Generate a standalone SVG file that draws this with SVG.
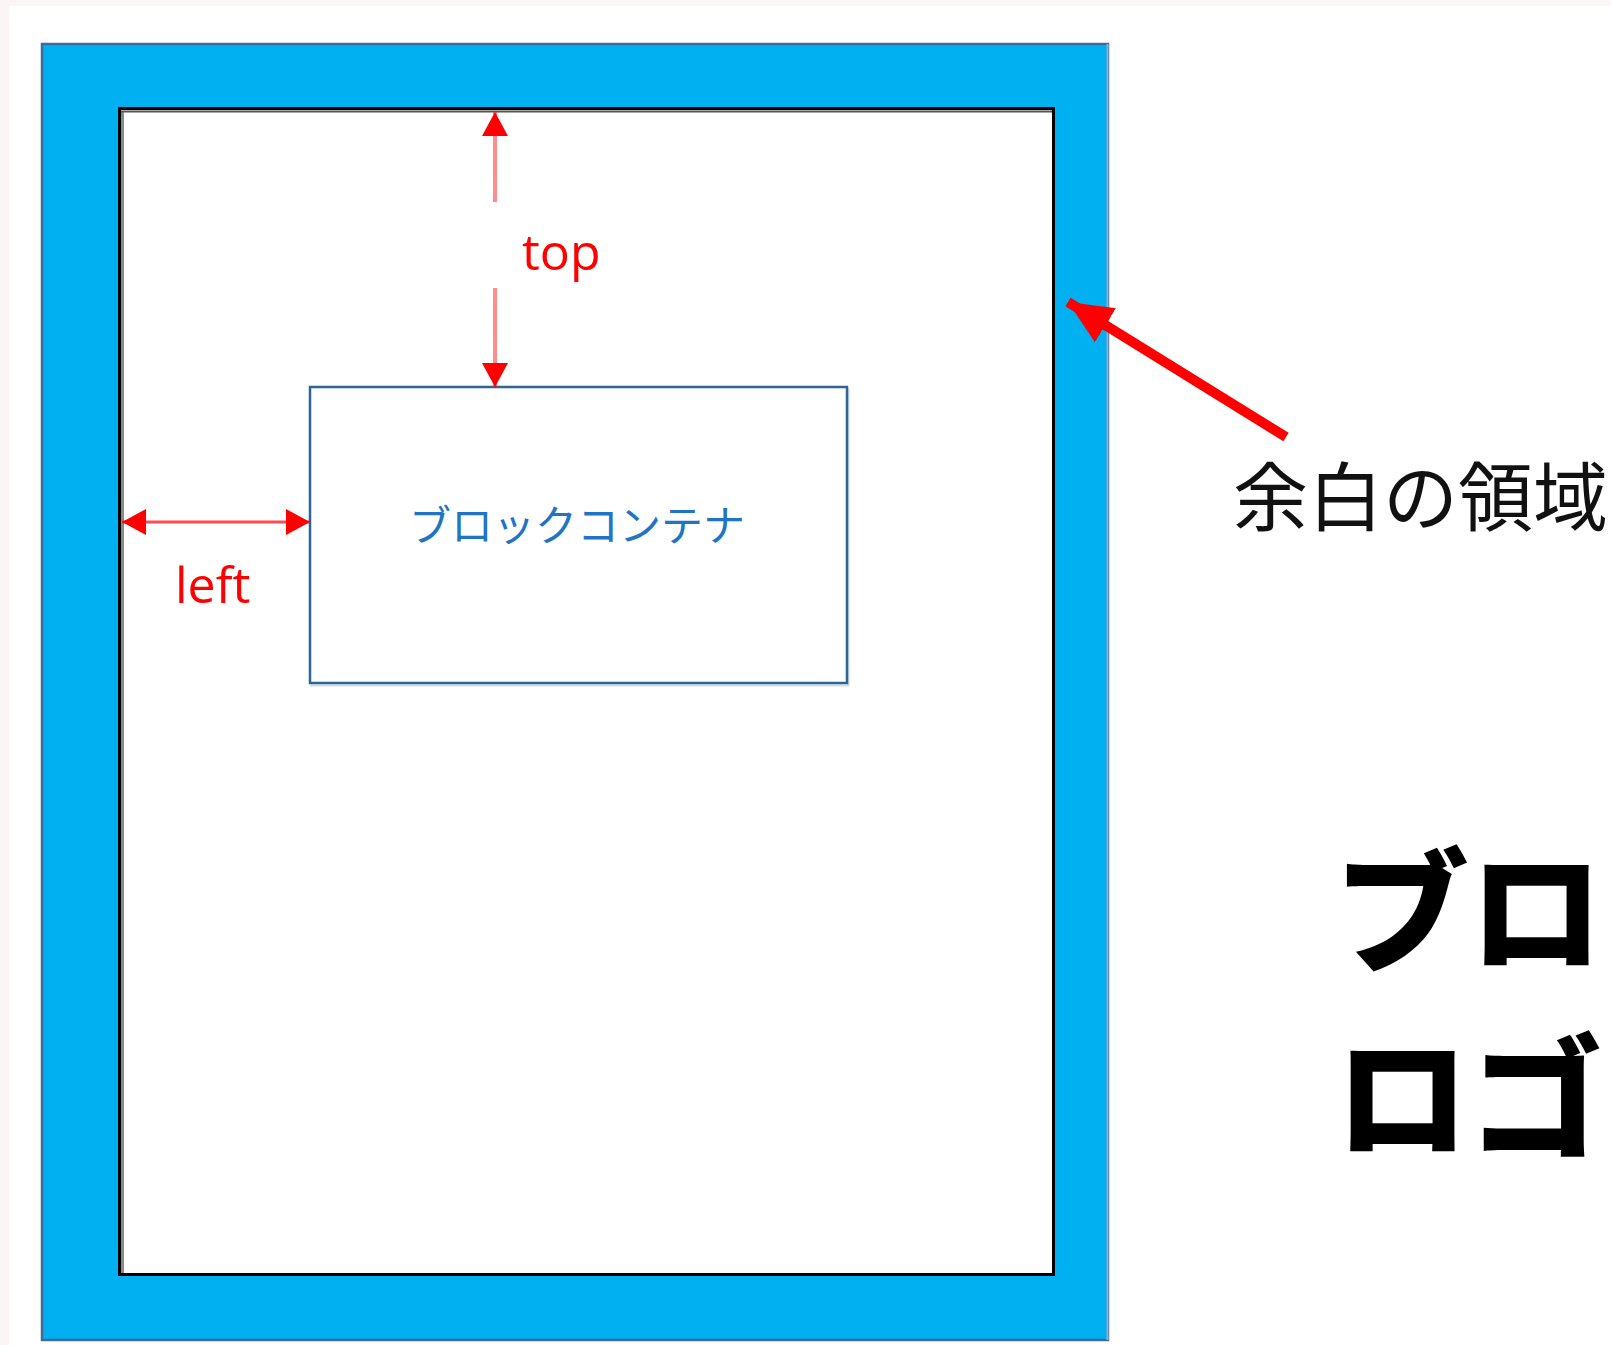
<svg xmlns="http://www.w3.org/2000/svg" width="1611" height="1345" viewBox="0 0 1611 1345">
<style>
.lbl{font-family:"Open Sans","Noto Sans","Liberation Sans",sans-serif;fill:#ff0000;font-size:50px}
.jp{font-family:"Noto Sans CJK JP","Noto Sans",sans-serif}
</style>
<defs>
<marker id="hs" markerUnits="userSpaceOnUse" viewBox="0 0 24 26" markerWidth="24" markerHeight="26" refX="24" refY="13" orient="auto">
<path d="M0,0 L24,13 L0,26 z" fill="#ff0000"/>
</marker>
<marker id="hb" markerUnits="userSpaceOnUse" viewBox="0 0 44 40" markerWidth="44" markerHeight="40" refX="44" refY="20" orient="auto">
<path d="M0,0 L44,20 L0,40 z" fill="#ff0000"/>
</marker>
</defs>
<rect x="0" y="0" width="1611" height="1345" fill="#fcf5f5"/>
<rect x="9" y="6" width="1602" height="1339" fill="#ffffff"/>
<g id="outer">
<rect x="42" y="44" width="1066" height="1296" fill="#00b0f0" stroke="#3f6b98" stroke-width="2.5"/>
<line x1="1107.5" y1="44" x2="1107.5" y2="1340" stroke="#8fb3d6" stroke-width="2"/>
</g>
<g id="page">
<rect x="119.5" y="108.5" width="934" height="1166" fill="#ffffff" stroke="#000000" stroke-width="3"/>
<line x1="122.5" y1="111" x2="122.5" y2="1273" stroke="#8a8a8a" stroke-width="3"/>
<line x1="121" y1="111.5" x2="1052" y2="111.5" stroke="#555555" stroke-width="2"/>
</g>
<g id="block">
<rect x="311.5" y="389.5" width="537" height="296" fill="none" stroke="#d0dbe6" stroke-width="2"/>
<rect x="310" y="387" width="537" height="296" fill="#ffffff" stroke="#2f6497" stroke-width="2.5"/>
<text class="jp" x="409" y="541" font-size="42" fill="#1f74c4">ブロックコンテナ</text>
</g>
<g id="connectors">
<line x1="495" y1="202" x2="495" y2="112" stroke="#ff0000" stroke-opacity="0.45" stroke-width="4" marker-end="url(#hs)"/>
<line x1="495" y1="288" x2="495" y2="387" stroke="#ff0000" stroke-opacity="0.45" stroke-width="4" marker-end="url(#hs)"/>
<line x1="200" y1="522" x2="122" y2="522" stroke="#ff0000" stroke-opacity="0.7" stroke-width="3" marker-end="url(#hs)"/>
<line x1="200" y1="522" x2="310" y2="522" stroke="#ff0000" stroke-opacity="0.7" stroke-width="3" marker-end="url(#hs)"/>
<line x1="1286" y1="437" x2="1068" y2="302" stroke="#ff0000" stroke-width="10" marker-end="url(#hb)"/>
</g>
<g id="labels">
<text class="lbl" x="522" y="270">top</text>
<text class="lbl" x="175" y="603">left</text>
<text class="jp" x="1233" y="525" font-size="75" fill="#111111">余白の領域</text>
<text class="jp" x="1335" y="962" font-size="134" font-weight="900" fill="#000000">ブロ</text>
<text class="jp" x="1335" y="1148" font-size="134" font-weight="900" fill="#000000">ロゴ</text>
</g>
</svg>
